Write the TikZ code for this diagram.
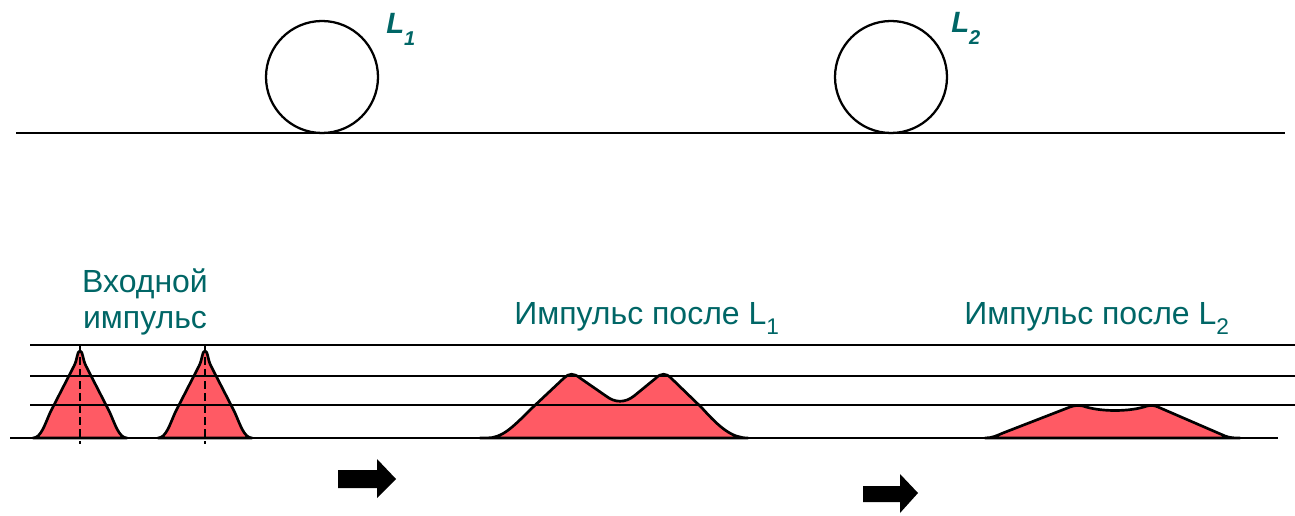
\documentclass[tikz,border=0pt]{standalone}
\usepackage{fontspec}
\setmainfont{Liberation Sans}
\definecolor{tealtxt}{RGB}{0,102,102}
\definecolor{pulsered}{RGB}{255,90,100}
\begin{document}
\begin{tikzpicture}[x=0.75pt,y=-0.75pt,
  thickline/.style={line width=2pt},
  pulsefill/.style={fill=pulsered,draw=black,line width=2pt,line join=round},
  marker/.style={line width=1.5pt,dash pattern=on 6pt off 3pt},
  lbl/.style={text=tealtxt,inner sep=0pt,font=\fontsize{24pt}{28pt}\selectfont},
  rlbl/.style={text=tealtxt,inner sep=0pt,font=\fontsize{22pt}{26pt}\selectfont\bfseries\itshape},
  blockarrow/.style={fill=black,draw=none},
  ring/.style={circle,draw=black,line width=1.7pt,minimum size=84pt,inner sep=0pt},
  gpulse/.pic={
    \filldraw[pulsefill] (-47,438) .. controls (-39,438) and (-35,424) .. (-29.6,412)
      -- (-6,366) .. controls (-2.4,359) and (-3,351) .. (0,351)
      .. controls (3,351) and (2.4,359) .. (6,366)
      -- (29.6,412) .. controls (35,424) and (39,438) .. (47,438) -- cycle;
  }]
\useasboundingbox (0,0) rectangle (1295,516);

% top fibre with ring resonators
\coordinate (tl) at (16,133);
\coordinate (tr) at (1285,133);
\draw[thickline] (tl) -- (tr);
\node[ring] (c1) at (322,77) {};
\node[ring] (c2) at (891,77) {};
\node[rlbl,anchor=base west] (L1) at (386,34) {L\raisebox{-9pt}{\fontsize{15pt}{15pt}\selectfont 1}};
\node[rlbl,anchor=base west] (L2) at (951,33) {L\raisebox{-9pt}{\fontsize{15pt}{15pt}\selectfont 2}};

% pulses
\pic at (80,0) {gpulse};
\pic at (205,0) {gpulse};

\filldraw[pulsefill] (480,438) -- (487,438) .. controls (502,438) and (512,428) .. (531,409)
  -- (564,378) .. controls (569,373) and (574,373) .. (580,378)
  -- (606,396) .. controls (615,403) and (625,403) .. (634,396)
  -- (656,378) .. controls (661,373) and (666,373) .. (671,378)
  -- (702,408) .. controls (720,428) and (732,438) .. (748,438) -- cycle;

\filldraw[pulsefill] (985,438) .. controls (992,438) and (996,436) .. (1003,433)
  -- (1070,407) .. controls (1074,405.5) and (1078,405) .. (1083,406)
  .. controls (1100,412) and (1130,412) .. (1147,406)
  .. controls (1151,405) and (1155,405.5) .. (1158,407)
  -- (1225,436) .. controls (1230,438) and (1235,438) .. (1240,438) -- cycle;

% dashed markers
\coordinate (d1t) at (80,345); \coordinate (d1b) at (80,444);
\coordinate (d2t) at (205,345); \coordinate (d2b) at (205,444);
\draw[marker] (d1t) -- (d1b);
\draw[marker] (d2t) -- (d2b);

% level lines
\coordinate (h1l) at (30,345); \coordinate (h1r) at (1297,345);
\coordinate (h2l) at (30,376); \coordinate (h2r) at (1297,376);
\coordinate (h3l) at (30,405); \coordinate (h3r) at (1297,405);
\coordinate (h4l) at (10,438); \coordinate (h4r) at (1278,438);
\draw[thickline] (h1l) -- (h1r);
\draw[thickline] (h2l) -- (h2r);
\draw[thickline] (h3l) -- (h3r);
\draw[thickline] (h4l) -- (h4r);

% labels
\node[lbl,anchor=base] (in1) at (145,293) {Входной};
\node[lbl,anchor=base] (in2) at (145,329) {импульс};
\node[lbl,anchor=base west] (p1) at (514,325) {Импульс после L\raisebox{-7.5pt}{\fontsize{17pt}{17pt}\selectfont 1}};
\node[lbl,anchor=base west] (p2) at (964,325) {Импульс после L\raisebox{-7.5pt}{\fontsize{17pt}{17pt}\selectfont 2}};

% block arrows
\fill[blockarrow] (338,470) -- (377,470) -- (377,459) -- (396,479) -- (377,498) -- (377,488) -- (338,488) -- cycle;
\fill[blockarrow] (863,486) -- (900,486) -- (900,474) -- (918,493) -- (900,513) -- (900,502) -- (863,502) -- cycle;
\end{tikzpicture}
\end{document}
